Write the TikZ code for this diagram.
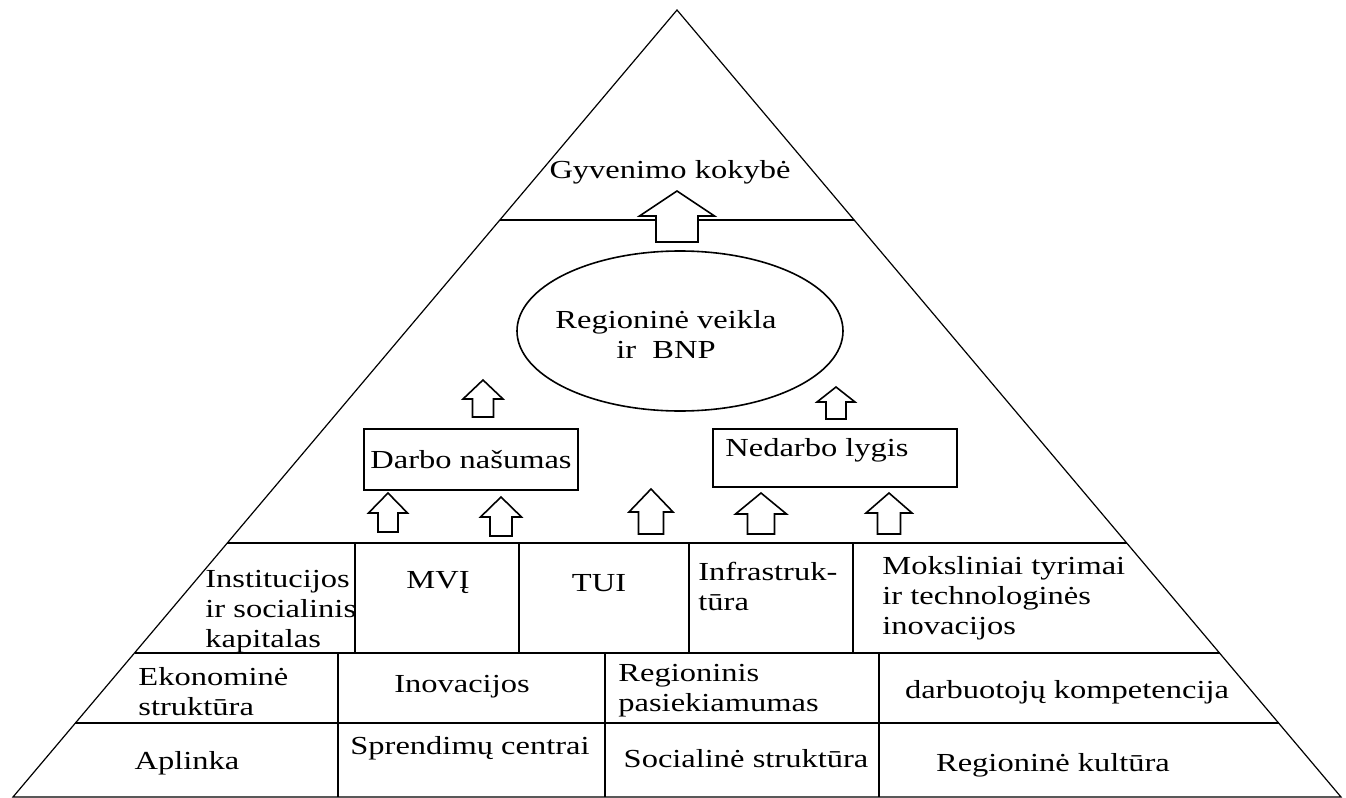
\documentclass[tikz,border=0pt]{standalone}
\usepackage{fontspec}
\setmainfont[FakeStretch=1.25]{Liberation Serif}
\usetikzlibrary{calc, shapes.geometric, positioning}

\tikzset{
	line/.style={line width=0.8pt},
	cell/.style={inner sep=0pt, align=left, anchor=west},
	ctext/.style={inner sep=0pt, align=center},
	box/.style={draw, rectangle, line width=0.8pt, inner sep=0pt},
	blockarrow/.style={draw, fill=white, line width=0.8pt},
	pics/uparrow/.style n args={4}{code={
		% #1 length, #2 head length, #3 head half width, #4 shaft half width
		\draw[blockarrow] (0,0) -- (-#3,#2) -- (-#4,#2) -- (-#4,#1) -- (#4,#1) -- (#4,#2) -- (#3,#2) -- cycle;
	}}
}

\begin{document}
\begin{tikzpicture}[x=0.5pt, y=-0.5pt, font=\fontsize{13}{15}\selectfont]
		\useasboundingbox (0,0) rectangle (1346,798);
		% pyramid
		\coordinate (apex) at (677,10);
		\coordinate (bl) at (13,797);
		\coordinate (br) at (1341,797);
		\draw[line width=0.6pt] (apex) -- (bl) -- (br) -- cycle;
		\foreach \yy in {220,543,653,723}
			\draw[line] ($(apex)!{(\yy-10)/787}!(bl)$) -- ($(apex)!{(\yy-10)/787}!(br)$);
		% cell borders
		\foreach \xx in {355,519,689,853}
			\draw[line] (\xx,543) -- (\xx,653);
		\foreach \xx in {338,605,879}
			\draw[line] (\xx,653) -- (\xx,797);

		% top level
		\node[ctext] (life) at (670,172) {Gyvenimo kokybė};
		\pic (uplife) at (677,191) {uparrow={51}{25}{37.5}{21}};

		% middle level
		\node[draw, ellipse, line width=0.8pt, minimum width=163pt, minimum height=80pt] (gdp) at (680,331) {};
		\node[ctext] (gdptext) at (666,335) {Regioninė veikla\\ir \ BNP};
		\node[box, minimum width=107pt, minimum height=30.5pt] (prod) at (471,459.5) {Darbo našumas};
		\node[box, minimum width=122pt, minimum height=29pt] (unemp) at (835,458) {};
		\node[cell] (unemptext) at (725,450) {Nedarbo lygis};
		\pic (upprod) at (483,380) {uparrow={37}{19}{20}{10.5}};
		\pic (upunemp) at (836,387) {uparrow={32}{15}{19}{10}};
		\pic (upa) at (388,493) {uparrow={39}{20}{19.5}{10}};
		\pic (upb) at (501,497) {uparrow={39}{20}{20.5}{11}};
		\pic (upc) at (651,489) {uparrow={45}{23}{22}{12.5}};
		\pic (upd) at (761,493) {uparrow={41}{21}{25.5}{13.5}};
		\pic (upe) at (889,493) {uparrow={41}{20}{23}{11.5}};

		% row 1
		\node[cell] (inst) at (205,612) {Institucijos\\ir socialinis\\kapitalas};
		\node[ctext] (sme) at (438,583) {MVĮ};
		\node[ctext] (fdi) at (599,583) {TUI};
		\node[cell] (infra) at (698,586) {Infrastruk-\\tūra};
		\node[cell] (rnd) at (882,598) {Moksliniai tyrimai\\ir technologinės\\inovacijos};
		% row 2
		\node[cell] (econ) at (138,692) {Ekonominė\\struktūra};
		\node[ctext] (innov) at (462,687) {Inovacijos};
		\node[cell] (reach) at (618,691) {Regioninis\\pasiekiamumas};
		\node[ctext] (skills) at (1067,692) {darbuotojų kompetencija};
		% row 3
		\node[ctext] (env) at (187,763) {Aplinka};
		\node[ctext] (dec) at (470,748) {Sprendimų centrai};
		\node[ctext] (soc) at (746,759) {Socialinė struktūra};
		\node[ctext] (cult) at (1053,765) {Regioninė kultūra};
	\end{tikzpicture}
\end{document}
